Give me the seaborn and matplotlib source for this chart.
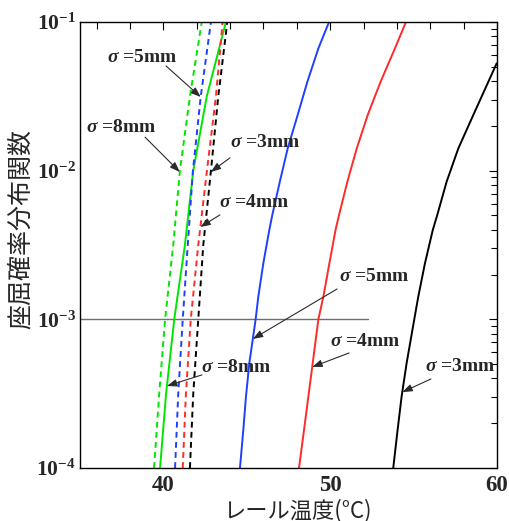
import numpy as np
import pandas as pd
import matplotlib
matplotlib.use("Agg")
import matplotlib.pyplot as plt
from matplotlib.ticker import FixedLocator, FuncFormatter, LogLocator, NullFormatter
import seaborn as sns

# --- data -------------------------------------------------------------
# dashed curves: probability levels and rail temperature for each sigma
dash_prob = [1e-4, 3.16e-4, 1e-3, 3.16e-3, 1e-2, 3.16e-2, 1e-1]
dash_t_8mm = [39.44, 39.75, 40.10, 40.59, 40.99, 41.59, 42.30]
dash_t_5mm = [40.70, 40.89, 41.16, 41.46, 41.77, 42.24, 42.85]
dash_t_4mm = [41.16, 41.35, 41.64, 42.09, 42.61, 43.15, 43.55]
dash_t_3mm = [41.59, 41.79, 42.09, 42.39, 42.85, 43.29, 43.83]

# solid curves
solid_prob_8mm = [1e-4, 3.16e-4, 1e-3, 3.16e-3, 1e-2, 3.16e-2, 1e-1]
solid_t_8mm = [39.80, 40.16, 40.65, 41.29, 41.79, 42.60, 43.75]

solid_prob = [1e-4, 1.80e-4, 3.02e-4, 5.06e-4, 1e-3, 1.42e-3, 2.38e-3, 3.99e-3,
              5.04e-3, 8.43e-3, 1.41e-2, 2.37e-2, 3.96e-2, 6.64e-2, 1e-1]
solid_t_5mm = [44.59, 44.79, 44.95, 45.15, 45.53, 45.69, 45.99, 46.35,
               46.53, 46.98, 47.45, 48.05, 48.63, 49.29, 49.93]
solid_t_4mm = [48.13, 48.43, 48.69, 48.95, 49.29, 49.59, 49.95, 50.32,
               50.53, 51.03, 51.59, 52.25, 53.02, 53.88, 54.54]

solid_prob_3mm = [1e-4, 1.80e-4, 3.02e-4, 5.06e-4, 1e-3, 1.42e-3, 2.38e-3, 3.99e-3,
                  5.04e-3, 8.43e-3, 1.41e-2, 2.37e-2, 3.96e-2, 5.27e-2]
solid_t_3mm = [53.78, 54.04, 54.28, 54.58, 55.04, 55.28, 55.68, 56.15,
               56.42, 56.98, 57.68, 58.58, 59.48, 59.98]

threshold_prob = 1e-3
threshold_t_end = 52.27

sigma_colors = {"3mm": "#000000", "4mm": "#ff2a2a", "5mm": "#1f3fff", "8mm": "#00e600"}

rows = []
def add(kind, sigma, temps, probs):
    for t, p in zip(temps, probs):
        rows.append({"temp": t, "prob": p, "sigma": sigma, "kind": kind,
                     "curve": f"{kind}-{sigma}"})

add("dashed", "8mm", dash_t_8mm, dash_prob)
add("dashed", "5mm", dash_t_5mm, dash_prob)
add("dashed", "4mm", dash_t_4mm, dash_prob)
add("dashed", "3mm", dash_t_3mm, dash_prob)
add("solid", "8mm", solid_t_8mm, solid_prob_8mm)
add("solid", "5mm", solid_t_5mm, solid_prob)
add("solid", "4mm", solid_t_4mm, solid_prob)
add("solid", "3mm", solid_t_3mm, solid_prob_3mm)
df = pd.DataFrame(rows)

# --- style ------------------------------------------------------------
sns.set_style("white")
plt.rcParams["font.family"] = ["Liberation Serif", "Noto Sans CJK JP", "DejaVu Sans"]
plt.rcParams["mathtext.fontset"] = "custom"
plt.rcParams["mathtext.rm"] = "Liberation Serif:bold"
plt.rcParams["mathtext.bf"] = "Liberation Serif:bold"
plt.rcParams["mathtext.it"] = "Liberation Serif:italic:bold"

fig = plt.figure(figsize=(5.09, 5.21), dpi=100)
ax = fig.add_axes([80 / 509, 53 / 521, 417 / 509, 446 / 521])

sns.lineplot(data=df, x="temp", y="prob", hue="sigma", style="kind",
             units="curve", estimator=None, sort=False,
             palette=sigma_colors,
             dashes={"solid": "", "dashed": (3.0, 2.2)},
             linewidth=1.4, legend=False, ax=ax)

ax.plot([35, threshold_t_end], [threshold_prob, threshold_prob],
        color="#6e6e6e", lw=1.0, zorder=1)

ax.set_yscale("log")
ax.set_xlim(35, 60)
ax.set_ylim(1e-4, 1e-1)

# ticks
ax.xaxis.set_major_locator(FixedLocator([40, 50, 60]))
ax.xaxis.set_minor_locator(FixedLocator(np.arange(36, 60, 2)))
ax.xaxis.set_major_formatter(FuncFormatter(lambda v, p: f"{v:.0f}"))
ax.yaxis.set_major_locator(FixedLocator([1e-4, 1e-3, 1e-2, 1e-1]))
ax.yaxis.set_minor_locator(LogLocator(base=10, subs=np.arange(2, 10)))
ax.yaxis.set_minor_formatter(NullFormatter())
ax.yaxis.set_major_formatter(
    FuncFormatter(lambda v, p: r"$\mathbf{10^{%d}}$" % round(np.log10(v))))
ax.tick_params(which="both", direction="in", top=True, right=True,
               color="black", width=0.8)
ax.tick_params(axis="x", which="major", length=6, labelsize=16.5, pad=5)
ax.tick_params(axis="y", which="major", length=6, labelsize=15.5, pad=3)
ax.tick_params(axis="x", which="minor", length=5)
ax.tick_params(axis="y", which="minor", length=4)
for lab in ax.get_xticklabels():
    lab.set_fontweight("bold")

for s in ax.spines.values():
    s.set_color("black")
    s.set_linewidth(1.0)

ax.set_xlabel("レール温度(°C)", fontsize=16,
              family=["Noto Sans CJK JP", "DejaVu Sans"])
ax.xaxis.set_label_coords(0.52, -0.068)
ax.set_ylabel("座屈確率分布関数", fontsize=18,
              family=["Noto Sans CJK JP", "DejaVu Sans"])
ax.yaxis.set_label_coords(-0.112, 0.535)

# --- annotations --------------------------------------------------------
curve_data = {
    ("dashed", "8mm"): (dash_t_8mm, dash_prob),
    ("dashed", "5mm"): (dash_t_5mm, dash_prob),
    ("dashed", "4mm"): (dash_t_4mm, dash_prob),
    ("dashed", "3mm"): (dash_t_3mm, dash_prob),
    ("solid", "8mm"): (solid_t_8mm, solid_prob_8mm),
    ("solid", "5mm"): (solid_t_5mm, solid_prob),
    ("solid", "4mm"): (solid_t_4mm, solid_prob),
    ("solid", "3mm"): (solid_t_3mm, solid_prob_3mm),
}

def on_curve(kind, sigma, prob):
    temps, probs = curve_data[(kind, sigma)]
    return np.interp(np.log10(prob), np.log10(probs), temps), prob

# (kind, sigma, label centre, arrow start, arrow tip probability)
labels = [
    ("dashed", "5mm", (38.72, 5.73e-2), (40.16, 5.06e-2), 3.13e-2),
    ("dashed", "8mm", (37.46, 1.94e-2), (38.90, 1.68e-2), 9.8e-3),
    ("dashed", "3mm", (46.09, 1.54e-2), (43.99, 1.22e-2), 9.8e-3),
    ("dashed", "4mm", (45.43, 6.15e-3), (43.39, 5.04e-3), 4.18e-3),
    ("solid", "8mm", (44.35, 4.71e-4), (42.31, 4.23e-4), 3.56e-4),
    ("solid", "5mm", (52.63, 1.93e-3), (50.41, 1.60e-3), 7.38e-4),
    ("solid", "4mm", (52.09, 7.05e-4), (51.13, 5.94e-4), 4.78e-4),
    ("solid", "3mm", (57.78, 4.78e-4), (56.04, 3.97e-4), 3.24e-4),
]

for kind, sigma, (tx, ty), start, tip_p in labels:
    ax.text(tx, ty, r"$σ$ =" + sigma, ha="center", va="center",
            fontsize=14, fontweight="bold", family="Liberation Serif",
            zorder=5)
    ax.annotate("", xy=on_curve(kind, sigma, tip_p), xytext=start,
                arrowprops=dict(arrowstyle="-|>,head_length=0.6,head_width=0.22",
                                color="#2a2a2a", lw=0.8,
                                shrinkA=0, shrinkB=0),
                zorder=6)

fig.savefig("out.png", dpi=100)
